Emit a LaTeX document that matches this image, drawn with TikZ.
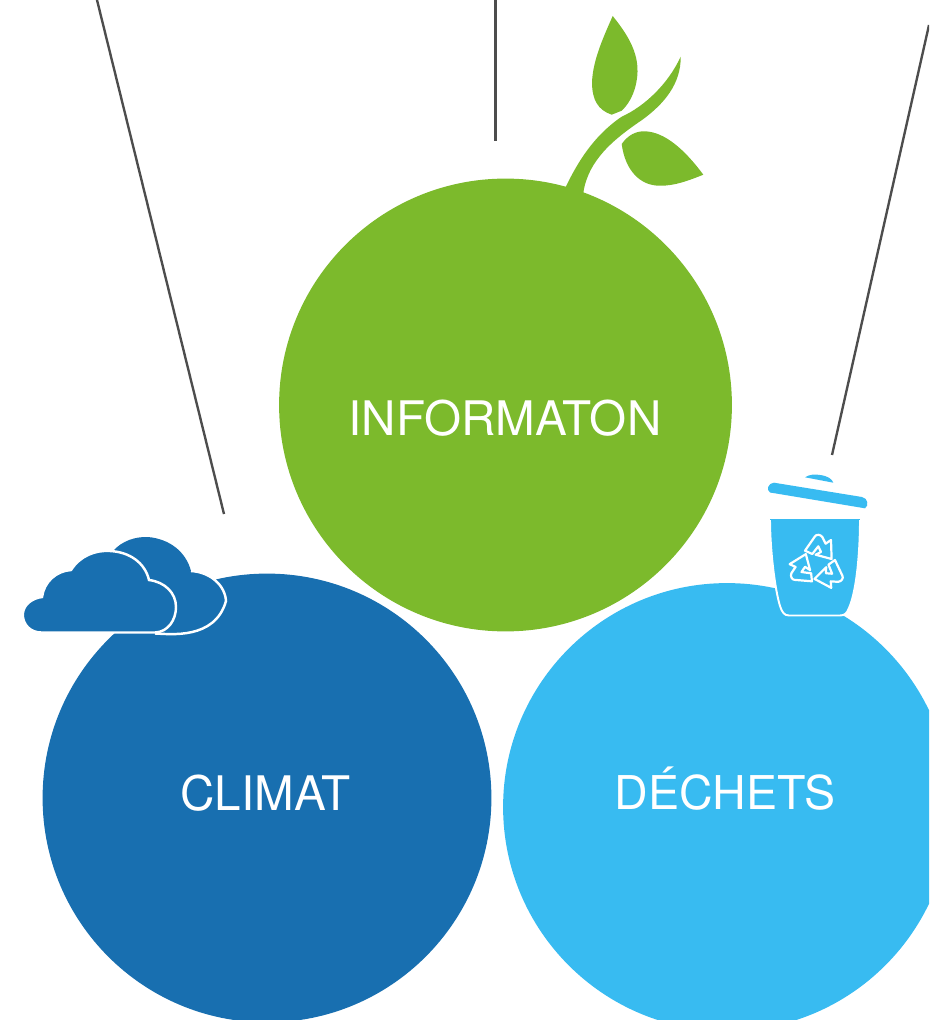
\documentclass[tikz,border=0pt]{standalone}
\usepackage{fontspec}
\setmainfont{TeX Gyre Heros}
\definecolor{cgreen}{HTML}{7CBA2C}
\definecolor{cdark}{HTML}{186FB0}
\definecolor{clight}{HTML}{38BBF1}
\definecolor{cline}{HTML}{4D4D4D}
\tikzset{
 ball/.style={circle,minimum size=#1*0.04cm,inner sep=0pt},
 lead/.style={draw=cline,line width=1.35pt},
 lab/.style={text=white,inner sep=0pt,anchor=base},
 rec/.style={draw=white,line width=1.25pt,line join=round},
 cloudline/.style={draw=white,line width=1.4pt}
}
\begin{document}
\begin{tikzpicture}[x=0.02cm,y=-0.02cm]
\useasboundingbox (0,0) rectangle (929,1020);
\begin{scope}
\clip (0,0) rectangle (929,1020);
% leaders
\coordinate (a1) at (97,0); \coordinate (a2) at (224,514);
\coordinate (b1) at (495.5,0); \coordinate (b2) at (495.5,141);
\coordinate (c1) at (929,25); \coordinate (c2) at (832,455);
\draw[lead] (a1) -- (a2);
\draw[lead] (b1) -- (b2);
\draw[lead] (c1) -- (c2);
% circles
\node[ball=226.5,fill=cgreen] (info) at (505.5,405) {};
\node[ball=224.5,fill=cdark] (clim) at (267,798) {};
\node[ball=224,fill=clight] (dech) at (727,807) {};
% labels
\node[lab,font=\fontsize{27.1pt}{30pt}\selectfont] (tinfo) at (505,435) {INFORMATON};
\node[lab,font=\fontsize{27.1pt}{30pt}\selectfont] (tclim) at (265.5,810) {CLIMAT};
\node[lab,font=\fontsize{26.5pt}{30pt}\selectfont] (tdech) at (725,809) {DÉCHETS};
% plant
\fill[cgreen] (612.7,16) .. controls (628,35) and (638,52) .. (637.5,72)
  .. controls (637,88) and (631,102) .. (621.7,110.7)
  -- (611.7,114.7) .. controls (598,110) and (592,100) .. (592,82)
  .. controls (593,60) and (603,38) .. (612.7,16) -- cycle;
\fill[cgreen] (565.7,187) .. controls (574,170) and (590,138) .. (621.7,116.7)
  .. controls (645,106) and (668,84) .. (680.7,56.7)
  .. controls (681,84) and (664,104) .. (642,120)
  .. controls (614,139) and (588,160) .. (583.3,193) -- cycle;
\fill[cgreen] (621.7,144) .. controls (628,135) and (636,131) .. (645,131.3)
  .. controls (665,132) and (685,150) .. (703.3,174.7)
  .. controls (690,180) and (675,186) .. (660,185.7)
  .. controls (640,186) and (625,170) .. (621.7,144) -- cycle;
% trash
\fill[clight] (805,477.3) .. controls (809,474.5) and (815,474) .. (820,475) .. controls (828,476) and (832,479) .. (833.3,482.7) -- cycle;
\fill[clight] (770,492.5) .. controls (766,490) and (768,483) .. (774,482.7)
  -- (862,497) .. controls (868,498) and (869,506) .. (865,508.3) -- cycle;
\fill[clight,draw=white,line width=1.1pt] (770,519) -- (860,519) .. controls (860,550) and (857,590) .. (849,608)
  .. controls (847,613) and (845,615.5) .. (840,615.5) -- (789,615.5)
  .. controls (784,615.5) and (782,612) .. (780,606) .. controls (775,590) and (770,550) .. (770,519) -- cycle;
\fill[clight] (769.7,518.6) rectangle (860.3,520);
% recycle symbol
\begin{scope}[shift={(817.3,564)}]
\foreach \a in {0,120,240}{
\draw[rec,rotate=\a] (-12.3,-13.3) -- (-2.3,-27.7) .. controls (-1,-29.8) and (3,-29.8) .. (5,-27)
  -- (8.3,-20.3) -- (13.7,-24) -- (14.3,-5) -- (-1.7,-9.3) -- (3.7,-12) -- (1,-17.7) -- (-5,-10) -- cycle;
}
\end{scope}
% cloud
\fill[cdark] (113,551) .. controls (122,541) and (135,536.5) .. (148,537)
  .. controls (170,539) and (186,552) .. (191,571)
  .. controls (210,572) and (225,585) .. (226,601)
  .. controls (226,622) and (205,635) .. (175,634.5) -- (120,634) -- cycle;
\draw[cloudline,fill=cdark] (22.8,614)
  .. controls (23.5,604) and (33,598) .. (42,597)
  .. controls (44,582) and (56,571) .. (71,570)
  .. controls (80,556) and (95,550) .. (110,551)
  .. controls (130,552) and (145,563) .. (149,580)
  .. controls (165,582) and (176,593) .. (176,607)
  .. controls (176,620) and (168,632) .. (155,632.5)
  -- (41,632.5) .. controls (31,632.5) and (22.5,625) .. (22.8,614) -- cycle;
\draw[cloudline] (155,633.5) .. controls (170,634) and (215,640) .. (226,601) .. controls (225,585) and (210,572) .. (191,571);
\end{scope}
\end{tikzpicture}
\end{document}
